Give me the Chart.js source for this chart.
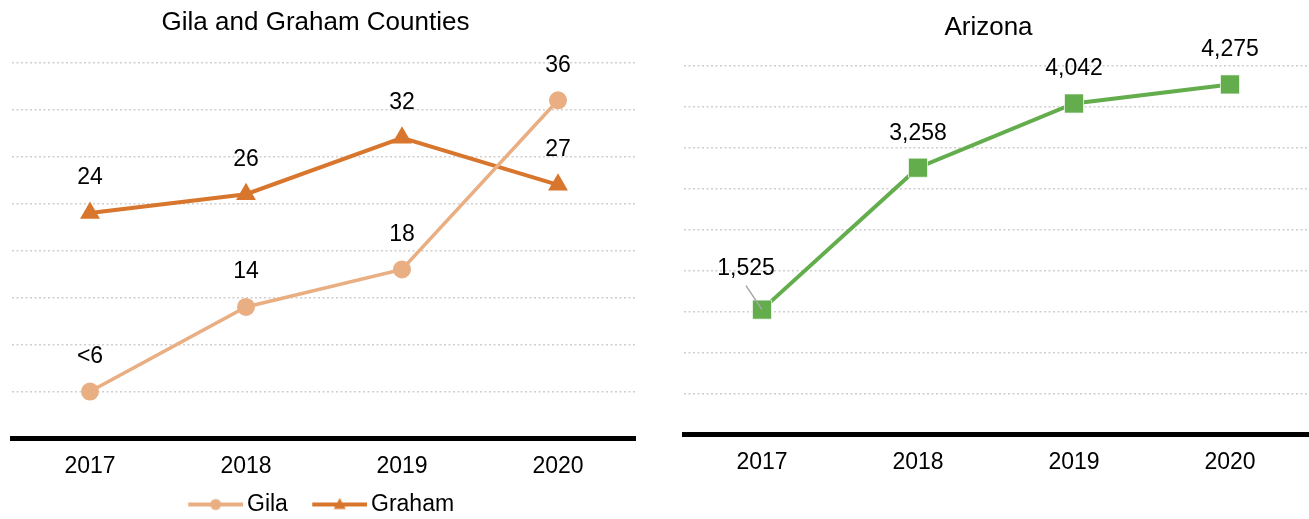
<!DOCTYPE html>
<html><head><meta charset="utf-8">
<script src="https://cdn.jsdelivr.net/npm/chart.js@4"></script>
<style>
html,body{margin:0;padding:0;width:1309px;height:519px;overflow:hidden;background:#fff;}
#l{position:absolute;left:-5px;top:0;width:641px;height:526px;}
#r{position:absolute;left:660px;top:0;width:649px;height:519px;}
</style></head><body>
<div id="l"><canvas id="cl"></canvas></div>
<div id="r"><canvas id="cr"></canvas></div>
<script>
// ---- data ----
const years = ['2017', '2018', '2019', '2020'];
const gilaValues = [5, 14, 18, 36];
const gilaLabels = ['<6', '14', '18', '36'];
const grahamValues = [24, 26, 32, 27];
const grahamLabels = ['24', '26', '32', '27'];
const arizonaValues = [1525, 3258, 4042, 4275];
const arizonaLabels = ['1,525', '3,258', '4,042', '4,275'];
const leftAxis = { max: 40, step: 5 };
const rightAxis = { max: 4500, step: 500 };

// ---- style ----
const FONT = "'Liberation Sans', Arial, sans-serif";
Chart.defaults.font.family = FONT;
Chart.defaults.color = '#000';
const GILA = '#E9AE82', GRAHAM = '#D7762C', AZ = '#63AD4D';

const valueLabels = {
  id: 'valueLabels',
  afterDatasetsDraw(chart, args, opts) {
    const ctx = chart.ctx;
    ctx.save();
    ctx.font = '23px ' + FONT;
    ctx.fillStyle = '#000';
    ctx.textAlign = 'center';
    ctx.textBaseline = 'middle';
    chart.data.datasets.forEach((ds, di) => {
      const meta = chart.getDatasetMeta(di);
      meta.data.forEach((pt, i) => {
        const sp = (opts.special || []).find(s => s.dataset === di && s.index === i);
        const dx = sp ? sp.dx : 0, dy = sp ? sp.dy : -opts.offset;
        const tx = pt.x + dx, ty = pt.y + dy;
        ctx.fillText(ds.valueLabels[i], tx, ty);
        if (sp && sp.leader) {
          ctx.strokeStyle = '#a6a6a6';
          ctx.lineWidth = 1.5;
          ctx.beginPath();
          ctx.moveTo(tx, ty + 17);
          ctx.lineTo(pt.x, pt.y);
          ctx.stroke();
        }
      });
    });
    ctx.restore();
  }
};

function legendMarker(color, shape, width) {
  const c = document.createElement('canvas');
  c.width = width; c.height = 22;
  const g = c.getContext('2d');
  const mx = width - 27.5, my = 11;
  g.strokeStyle = color; g.lineWidth = 4;
  g.beginPath(); g.moveTo(width - 55, my); g.lineTo(width, my); g.stroke();
  g.fillStyle = color;
  g.beginPath();
  if (shape === 'circle') {
    g.arc(mx, my, 5.5, 0, Math.PI * 2);
  } else {
    g.moveTo(mx, my - 6.5); g.lineTo(mx + 6, my + 4.5); g.lineTo(mx - 6, my + 4.5); g.closePath();
  }
  g.fill();
  return c;
}

const LEG_W = 58.6;
const gridOpts = {
  color: c => (c.tick && c.tick.value === 0) ? 'rgba(0,0,0,0)' : '#cfcfcf',
  lineWidth: 1.5,
  drawTicks: false
};

function xScale() {
  return {
    type: 'category',
    offset: true,
    grid: { display: false, drawTicks: false },
    border: { display: true, color: '#000', width: 5 },
    ticks: { padding: 14, color: '#000', font: { size: 23 }, maxRotation: 0 },
    afterFit: s => { s.height = 41.5; }
  };
}

new Chart(document.getElementById('cl'), {
  type: 'line',
  data: {
    labels: years,
    datasets: [
      { label: 'Gila', data: gilaValues, valueLabels: gilaLabels,
        borderColor: GILA, backgroundColor: GILA, borderWidth: 3.5,
        pointStyle: 'circle', pointRadius: 9, pointBackgroundColor: GILA, pointBorderColor: GILA, pointBorderWidth: 0,
        clip: false },
      { label: 'Graham', data: grahamValues, valueLabels: grahamLabels,
        borderColor: GRAHAM, backgroundColor: GRAHAM, borderWidth: 4,
        pointStyle: 'triangle', pointRadius: 11.5, pointBackgroundColor: GRAHAM, pointBorderColor: GRAHAM, pointBorderWidth: 0,
        clip: false }
    ]
  },
  options: {
    responsive: true, maintainAspectRatio: false, animation: false, events: [],
    layout: { padding: 0, autoPadding: false },
    scales: {
      x: xScale(),
      y: {
        min: 0, max: leftAxis.max,
        ticks: { display: false, stepSize: leftAxis.step },
        grid: gridOpts,
        border: { display: false, dash: [2, 2.5] },
        afterFit: s => { s.width = 17; }
      }
    },
    plugins: {
      title: { display: true, text: 'Gila and Graham Counties', color: '#000',
        font: { size: 26, weight: 'normal' }, padding: { top: 7.4, bottom: 24.1 } },
      legend: {
        display: true, position: 'bottom',
        labels: {
          usePointStyle: true, pointStyleWidth: LEG_W, padding: 13,
          font: { size: 23 }, color: '#000',
          generateLabels: () => [
            { text: 'Gila', pointStyle: legendMarker(GILA, 'circle', Math.round(LEG_W + 15)), fillStyle: GILA, strokeStyle: GILA, lineWidth: 0, hidden: false, datasetIndex: 0, fontColor: '#000' },
            { text: 'Graham', pointStyle: legendMarker(GRAHAM, 'triangle', Math.round(LEG_W + 15)), fillStyle: GRAHAM, strokeStyle: GRAHAM, lineWidth: 0, hidden: false, datasetIndex: 1, fontColor: '#000' }
          ]
        }
      },
      tooltip: { enabled: false },
      valueLabels: { offset: 35 }
    }
  },
  plugins: [valueLabels]
});

new Chart(document.getElementById('cr'), {
  type: 'line',
  data: {
    labels: years,
    datasets: [
      { label: 'Arizona', data: arizonaValues, valueLabels: arizonaLabels,
        borderColor: AZ, backgroundColor: AZ, borderWidth: 4,
        pointStyle: 'rect', pointRadius: 13.5, pointBackgroundColor: AZ,
        pointBorderColor: 'rgba(255,255,255,0.7)', pointBorderWidth: 1,
        clip: false }
    ]
  },
  options: {
    responsive: true, maintainAspectRatio: false, animation: false, events: [],
    layout: { padding: { left: 9, right: 1, top: 0, bottom: 43 }, autoPadding: false },
    scales: {
      x: xScale(),
      y: {
        min: 0, max: rightAxis.max,
        ticks: { display: false, stepSize: rightAxis.step },
        grid: gridOpts,
        border: { display: false, dash: [2, 2.5] },
        afterFit: s => { s.width = 15; }
      }
    },
    plugins: {
      title: { display: true, text: 'Arizona', color: '#000',
        font: { size: 26, weight: 'normal' }, padding: { top: 11.9, bottom: 22.9 } },
      legend: { display: false },
      tooltip: { enabled: false },
      valueLabels: { offset: 34.5, special: [{ dataset: 0, index: 0, dx: -16, dy: -41, leader: true }] }
    }
  },
  plugins: [valueLabels]
});
</script>
</body></html>
